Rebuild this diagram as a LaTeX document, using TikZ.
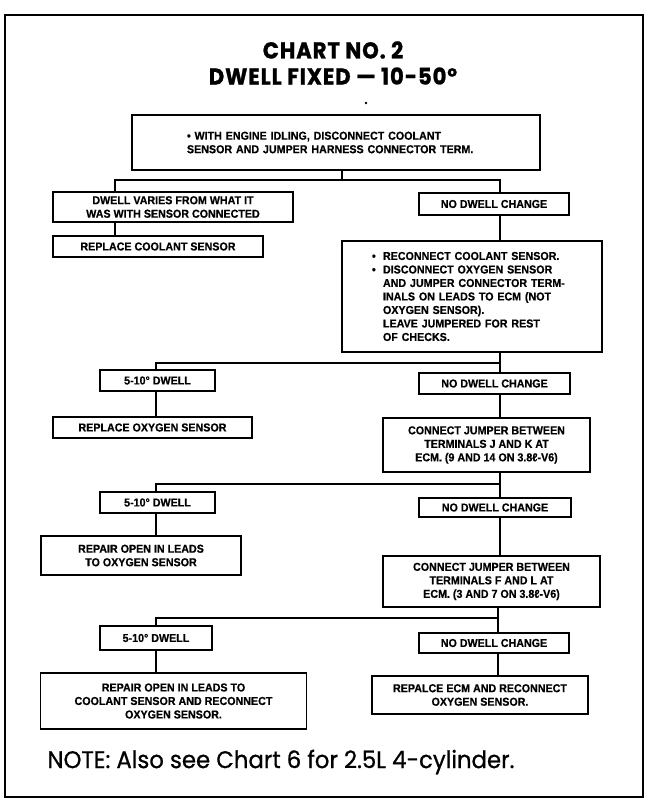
\documentclass[tikz,border=0pt]{standalone}
\usepackage{fontspec}
\setmainfont{Liberation Sans}[FakeStretch=0.93, BoldFeatures={FakeBold=0.5}]
\newfontfamily\titlefont{Poppins}[FakeStretch=0.92, LetterSpace=4, BoldFeatures={FakeBold=1}]
\newfontfamily\notefont{Poppins}[FakeStretch=0.95, FakeBold=0.8]
\begin{document}
\begin{tikzpicture}[x=1pt,y=-1pt,
  box/.style={draw, line width=1.5pt, inner sep=0pt, align=center,
    font=\fontsize{11.5}{13.5}\selectfont\bfseries},
  wire/.style={line width=1.5pt},
  frame/.style={line width=2.5pt},
  headline/.style={font=\titlefont\bfseries\fontsize{23}{27}\selectfont}]
\fill[white] (0,0) rectangle (652,800);
\useasboundingbox (0,0) rectangle (652,800);
\draw[frame] (5,15) rectangle (643,797);

% heading
\node[headline] (title1) at (333,50) {CHART NO. 2};
\node[headline] (title2) at (333,76) {DWELL FIXED — 10-50°};
\fill (366,103) circle (1.3);

% first test
\node[box, minimum width=408pt, minimum height=55pt, text width=298pt,
  inner xsep=55pt, align=left] (b0) at (336,142.5)
  {• WITH ENGINE IDLING, DISCONNECT COOLANT\\SENSOR AND JUMPER HARNESS CONNECTOR TERM.};
\node[box, minimum width=240pt, minimum height=30pt] (b1) at (173,207)
  {DWELL VARIES FROM WHAT IT\\WAS WITH SENSOR CONNECTED};
\node[box, minimum width=150pt, minimum height=22pt] (b2) at (494,204) {NO DWELL CHANGE};
\node[box, minimum width=210pt, minimum height=21pt] (b3) at (158,246.5) {REPLACE COOLANT SENSOR};

% second test
\node[box, minimum width=260pt, minimum height=111pt, text width=200pt,
  inner xsep=30pt, align=left] (b4) at (472,296.5)
  {\makebox[11pt][l]{•}RECONNECT COOLANT SENSOR.\\
   \makebox[11pt][l]{•}DISCONNECT OXYGEN SENSOR\\
   \hspace*{11pt}AND JUMPER CONNECTOR TERM-\\
   \hspace*{11pt}INALS ON LEADS TO ECM (NOT\\
   \hspace*{11pt}OXYGEN SENSOR).\\
   \hspace*{11pt}LEAVE JUMPERED FOR REST\\
   \hspace*{11pt}OF CHECKS.};
\node[box, minimum width=115pt, minimum height=21pt] (b5) at (157.5,380.5) {5-10° DWELL};
\node[box, minimum width=151pt, minimum height=21pt] (b6) at (494.5,383.5) {NO DWELL CHANGE};
\node[box, minimum width=199pt, minimum height=21pt] (b7) at (152.5,427.5) {REPLACE OXYGEN SENSOR};

% third test
\node[box, minimum width=207pt, minimum height=54pt] (b8) at (486.5,445)
  {CONNECT JUMPER BETWEEN\\TERMINALS J AND K AT\\ECM. (9 AND 14 ON 3.8ℓ-V6)};
\node[box, minimum width=115pt, minimum height=21pt] (b9) at (157.5,502.5) {5-10° DWELL};
\node[box, minimum width=152pt, minimum height=19pt] (b10) at (495,507.5) {NO DWELL CHANGE};
\node[box, minimum width=200pt, minimum height=39pt] (b11) at (141,555.5)
  {REPAIR OPEN IN LEADS\\TO OXYGEN SENSOR};

% fourth test
\node[box, minimum width=217pt, minimum height=51pt] (b12) at (491.5,581.5)
  {CONNECT JUMPER BETWEEN\\TERMINALS F AND L AT\\ECM. (3 AND 7 ON 3.8ℓ-V6)};
\node[box, minimum width=112pt, minimum height=24pt] (b13) at (156,638) {5-10° DWELL};
\node[box, minimum width=150pt, minimum height=20pt] (b14) at (494,643) {NO DWELL CHANGE};
\node[box, minimum width=266pt, minimum height=56pt] (b15) at (173.5,701)
  {REPAIR OPEN IN LEADS TO\\COOLANT SENSOR AND RECONNECT\\OXYGEN SENSOR.};
\node[box, minimum width=216pt, minimum height=38pt] (b16) at (480,695)
  {REPALCE ECM AND RECONNECT\\OXYGEN SENSOR.};

% branch columns and junctions
\coordinate (xL0) at (115,0);
\coordinate (xL) at (156,0);
\coordinate (xR) at (500,0);
\coordinate (j0) at (342,180);
\coordinate (j1) at (500,363);
\coordinate (j2) at (500,484);
\coordinate (j3) at (498,618);

\draw[wire] (b0.south -| j0) -- (j0);
\draw[wire] (b1.north -| xL0) |- (j0) -| (b2.north -| xR);
\draw[wire] (b1.south -| xL0) -- (b3.north -| xL0);
\draw[wire] (b2.south -| xR) -- (b4.north -| xR);

\draw[wire] (b4.south -| j1) -- (b6.north -| j1);
\draw[wire] (b5.north -| xL) |- (j1);
\draw[wire] (b5.south -| xL) -- (b7.north -| xL);
\draw[wire] (b6.south -| xR) -- (b8.north -| xR);

\draw[wire] (b8.south -| j2) -- (b10.north -| j2);
\draw[wire] (b9.north -| xL) |- (j2);
\draw[wire] (b9.south -| xL) -- (b11.north -| xL);
\draw[wire] (b10.south -| xR) -- (b12.north -| xR);

\draw[wire] (b12.south -| j3) -- (b14.north -| j3);
\draw[wire] (b13.north -| xL) |- (j3);
\draw[wire] (b13.south -| xL) -- (b15.north -| xL);
\draw[wire] (b14.south -| j3) -- (b16.north -| j3);

\node[anchor=west, font=\notefont\fontsize{24}{28}\selectfont] (note) at (44,762)
  {NOTE: Also see Chart 6 for 2.5L 4-cylinder.};
\end{tikzpicture}
\end{document}
